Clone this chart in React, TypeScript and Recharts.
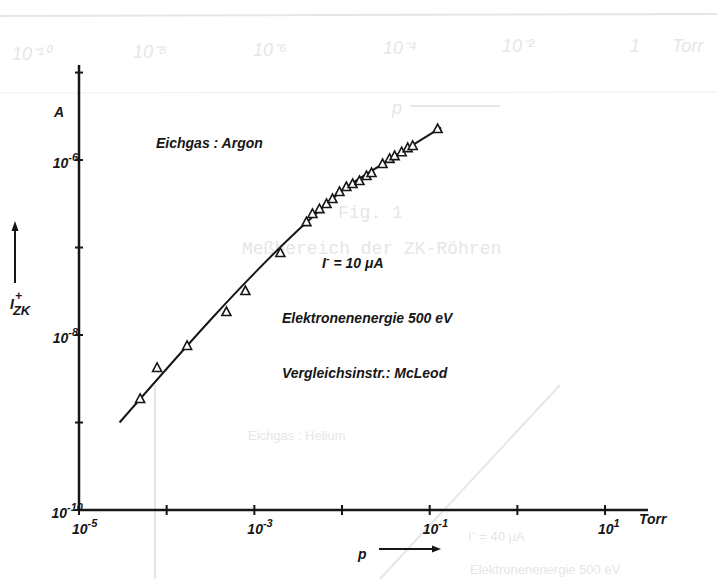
import { ComposedChart, Line, Scatter, XAxis, YAxis } from "recharts";

// Measured points (Eichgas Argon), pressure in Torr, ion current in A
const pressure = [
  4.98e-5, 7.78e-5, 1.71e-4, 4.8e-4, 7.9e-4, 1.98e-3, 3.93e-3, 4.6e-3, 5.53e-3,
  6.65e-3, 7.78e-3, 9.35e-3, 1.12e-2, 1.32e-2, 1.58e-2, 1.9e-2, 2.17e-2, 2.9e-2,
  3.49e-2, 3.98e-2, 4.79e-2, 5.61e-2, 6.4e-2, 0.123,
];
const current = [
  1.86e-9, 4.2e-9, 7.5e-9, 1.83e-8, 3.18e-8, 8.65e-8, 1.95e-7, 2.42e-7, 2.75e-7,
  3.14e-7, 3.58e-7, 4.31e-7, 4.91e-7, 5.32e-7, 5.75e-7, 6.56e-7, 7.1e-7, 9.0e-7,
  1.03e-6, 1.11e-6, 1.23e-6, 1.37e-6, 1.45e-6, 2.26e-6,
];

// hand-drawn calibration curve
const fitPressure = [2.9e-5, 4.0e-3, 1.0e-2, 3.0e-2, 0.135];
const fitCurrent = [1.0e-9, 1.97e-7, 4.45e-7, 9.2e-7, 2.35e-6];

const xTicks = [1e-5, 1e-4, 1e-3, 1e-2, 1e-1, 1, 10];
const xLabelled = [-5, -3, -1, 1];
const yTicks = [1e-10, 1e-9, 1e-8, 1e-7, 1e-6, 1e-5];
const yLabelled = [-10, -8, -6];

const points = pressure.map((p, i) => ({ p, i: current[i] }));
const curve = fitPressure.map((p, i) => ({ p, i: fitCurrent[i] }));

const INK = "#161616";
const FAINT = "#e6e6e6";
const FONT = "'Liberation Sans', Arial, sans-serif";

const Pow = ({ x, y, exp, anchor }: { x: number; y: number; exp: number; anchor?: string }) => (
  <text
    x={x}
    y={y}
    textAnchor={anchor || "start"}
    fontFamily={FONT}
    fontStyle="italic"
    fontWeight={700}
    fontSize={14}
    fill={INK}
  >
    10
    <tspan dy={-7} fontSize={11}>
      {exp}
    </tspan>
  </text>
);

const XTick = (props: any) => {
  const { x, y, payload } = props;
  const exp = Math.round(Math.log10(payload.value));
  return (
    <g>
      <line x1={x} x2={x} y1={y - 5} y2={y + 5} stroke={INK} strokeWidth={2} />
      {xLabelled.includes(exp) && <Pow x={x - 7} y={y + 24} exp={exp} />}
    </g>
  );
};

const YTick = (props: any) => {
  const { x, y, payload } = props;
  const exp = Math.round(Math.log10(payload.value));
  return (
    <g>
      <line x1={x - 4} x2={x + 4} y1={y} y2={y} stroke={INK} strokeWidth={2} />
      {yLabelled.includes(exp) && <Pow x={exp === -10 ? x + 4 : x - 1} y={y + 8} exp={exp} anchor="end" />}
    </g>
  );
};

const Triangle = (props: any) => {
  const { cx, cy } = props;
  if (cx == null || cy == null) return null;
  return (
    <polygon
      points={`${cx},${cy - 5} ${cx - 4.5},${cy + 3.5} ${cx + 4.5},${cy + 3.5}`}
      fill="#fff"
      stroke={INK}
      strokeWidth={1.6}
    />
  );
};

const label = {
  fontFamily: FONT,
  fontStyle: "italic" as const,
  fontWeight: 700,
  fontSize: 14,
  fill: INK,
};

const faint = {
  fontFamily: "'Liberation Mono', monospace",
  fontSize: 18,
  fill: FAINT,
};
const faintSans = { ...faint, fontFamily: FONT, fontStyle: "italic" as const };

export default function App() {
  return (
    <div style={{ position: "absolute", left: 0, top: 0, width: 717, height: 579, background: "#fff" }}>
      {/* bleed-through of the facing page */}
      <svg width={717} height={579} style={{ position: "absolute", left: 0, top: 0 }}>
        <line x1={0} x2={717} y1={16} y2={14} stroke={FAINT} strokeWidth={2} />
        <line x1={0} x2={717} y1={93} y2={92} stroke="#eeeeee" strokeWidth={1} />
        <text x={12} y={60} style={faintSans}>10⁻¹⁰</text>
        <text x={133} y={58} style={faintSans}>10⁻⁸</text>
        <text x={253} y={56} style={faintSans}>10⁻⁶</text>
        <text x={383} y={54} style={faintSans}>10⁻⁴</text>
        <text x={502} y={52} style={faintSans}>10⁻²</text>
        <text x={630} y={52} style={faintSans}>1</text>
        <text x={672} y={52} style={faintSans}>Torr</text>
        <text x={392} y={114} style={faintSans}>p</text>
        <line x1={410} x2={500} y1={106} y2={106} stroke={FAINT} strokeWidth={2} />
        <text x={338} y={218} style={faint}>Fig. 1</text>
        <text x={242} y={254} style={faint}>Meßbereich der ZK-Röhren</text>
        <line x1={155} x2={155} y1={385} y2={579} stroke={FAINT} strokeWidth={2} />
        <line x1={380} x2={560} y1={579} y2={385} stroke={FAINT} strokeWidth={2} />
        <text x={248} y={440} style={{ ...faint, fontFamily: FONT, fontSize: 13 }}>Eichgas : Helium</text>
        <text x={468} y={541} style={{ ...faint, fontFamily: FONT, fontSize: 13 }}>I⁻ = 40 μA</text>
        <text x={470} y={574} style={{ ...faint, fontFamily: FONT, fontSize: 13 }}>Elektronenenergie 500 eV</text>
      </svg>

      <div style={{ position: "absolute", left: 0, top: 0 }}>
        <ComposedChart width={717} height={579} margin={{ top: 65, right: 69, bottom: 68, left: 78 }}>
          <XAxis
            type="number"
            dataKey="p"
            scale="log"
            domain={[1e-5, 30.9]}
            allowDataOverflow
            ticks={xTicks}
            interval={0}
            height={1}
            tickSize={0}
            tickMargin={0}
            tickLine={false}
            tick={<XTick />}
            axisLine={{ stroke: INK, strokeWidth: 2.5 }}
          />
          <YAxis
            type="number"
            dataKey="i"
            scale="log"
            domain={[1e-10, 1.22e-5]}
            allowDataOverflow
            ticks={yTicks}
            interval={0}
            width={1}
            tickSize={0}
            tickMargin={0}
            tickLine={false}
            tick={<YTick />}
            axisLine={{ stroke: INK, strokeWidth: 2.5 }}
          />
          <Line
            data={curve}
            dataKey="i"
            type="monotone"
            stroke={INK}
            strokeWidth={2}
            dot={false}
            isAnimationActive={false}
          />
          <Scatter data={points} dataKey="i" shape={<Triangle />} isAnimationActive={false} />
        </ComposedChart>
      </div>

      {/* annotations */}
      <svg width={717} height={579} style={{ position: "absolute", left: 0, top: 0, pointerEvents: "none" }}>
        <text x={54} y={117} style={label}>A</text>
        <line x1={15} x2={15} y1={283} y2={228} stroke={INK} strokeWidth={2} />
        <polygon points="15,221 11.5,231 18.5,231" fill={INK} />
        <text x={10} y={309} style={label} fontSize={15}>
          I
          <tspan dx={1} dy={-9} fontSize={12}>+</tspan>
          <tspan dx={-9} dy={15} fontSize={13}>ZK</tspan>
        </text>
        <text x={156} y={148} style={label}>Eichgas : Argon</text>
        <text x={322} y={268} style={label}>
          I
          <tspan dy={-6} fontSize={11}>-</tspan>
          <tspan dy={6}> = 10 μA</tspan>
        </text>
        <text x={282} y={323} style={label}>Elektronenenergie  500 eV</text>
        <text x={282} y={378} style={label}>Vergleichsinstr.: McLeod</text>
        <text x={639} y={524} style={label} fontSize={13}>Torr</text>
        <text x={358} y={559} style={label} fontSize={16}>p</text>
        <line x1={379} x2={434} y1={549} y2={549} stroke={INK} strokeWidth={2} />
        <polygon points="441,549 432,545.5 432,552.5" fill={INK} />
      </svg>
    </div>
  );
}
